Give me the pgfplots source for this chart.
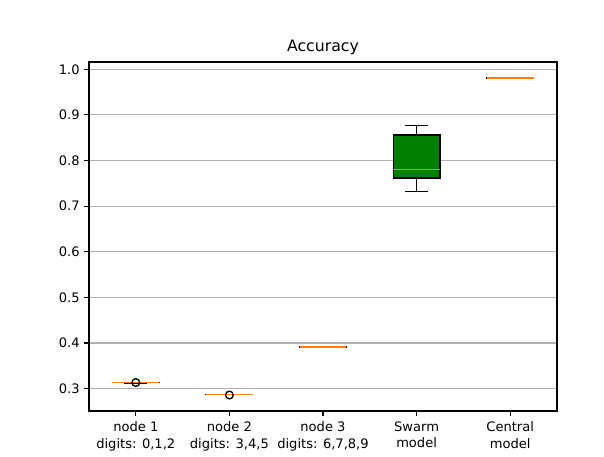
\documentclass[border=0pt]{standalone}
\usepackage{pgfplots}
\pgfplotsset{compat=1.18}
\usepgfplotslibrary{statistics}
\usepackage{fontspec}
\setmainfont{DejaVu Sans}
\definecolor{mplorange}{HTML}{FF7F0E}
\definecolor{mplgreen}{HTML}{008000}
\definecolor{gridgray}{HTML}{B0B0B0}
\begin{document}
\begin{tikzpicture}
\begin{axis}[
  scale only axis, width=351pt, height=261.75pt,
  xmin=0.5, xmax=5.5, ymin=0.251, ymax=1.016,
  xtick={1,2,3,4,5},
  xticklabels={{node 1\\digits: 0,1,2},{node 2\\digits: 3,4,5},{node 3\\digits: 6,7,8,9},{Swarm\\model},{Central\\model}},
  ytick={0.3,0.4,0.5,0.6,0.7,0.8,0.9,1.0},
  yticklabel style={/pgf/number format/fixed, /pgf/number format/fixed zerofill, /pgf/number format/precision=1},
  /pgf/number format/assume math mode=true,
  tick align=outside, xtick pos=bottom, ytick pos=left,
  ymajorgrids, grid style={gridgray, line width=0.8pt},
  major tick length=3.5pt, tick style={black, line width=0.8pt},
  axis line style={line width=0.8pt},
  title={Accuracy}, title style={font=\fontsize{11.8}{14}\selectfont, yshift=-4pt},
  tick label style={font=\fontsize{9.8}{12.3}\selectfont},
  xticklabel style={align=center, yshift=-1pt},
  boxplot/draw direction=y,
  boxplot/box extend=0.5, boxplot/whisker extend=0.25,
  boxplot/every median/.style={draw=mplorange, line width=1pt},
]
\addplot[draw=black, line width=1pt, fill=white, mark=o, mark size=2.9pt, mark options={draw=black, fill=none},
  boxplot prepared={draw position=1, lower whisker=0.3125, lower quartile=0.3128, median=0.3132, upper quartile=0.3135, upper whisker=0.3139}]
  table[row sep=\\, y index=0] {0.3134\\};
\addplot[draw=black, line width=1pt, fill=white, mark=o, mark size=2.9pt, mark options={draw=black, fill=none},
  boxplot prepared={draw position=2, lower whisker=0.2862, lower quartile=0.2865, median=0.2868, upper quartile=0.2871, upper whisker=0.2874}]
  table[row sep=\\, y index=0] {0.2860\\};
\addplot[draw=black, line width=1pt, fill=white,
  boxplot prepared={draw position=3, lower whisker=0.3905, lower quartile=0.3908, median=0.3912, upper quartile=0.3915, upper whisker=0.3918}]
  coordinates {};
\addplot[draw=black, line width=1pt, fill=mplgreen,
  boxplot prepared={draw position=4, lower whisker=0.732, lower quartile=0.762, median=0.781, upper quartile=0.856, upper whisker=0.877}]
  coordinates {};
\addplot[draw=black, line width=1pt, fill=white,
  boxplot prepared={draw position=5, lower whisker=0.9806, lower quartile=0.9808, median=0.9810, upper quartile=0.9812, upper whisker=0.9814}]
  coordinates {};
\end{axis}
\path (current axis.south west) ++(-66.75pt,-34.5pt);
\path (current axis.north east) ++(35.25pt,46.5pt);
\end{tikzpicture}
\end{document}
